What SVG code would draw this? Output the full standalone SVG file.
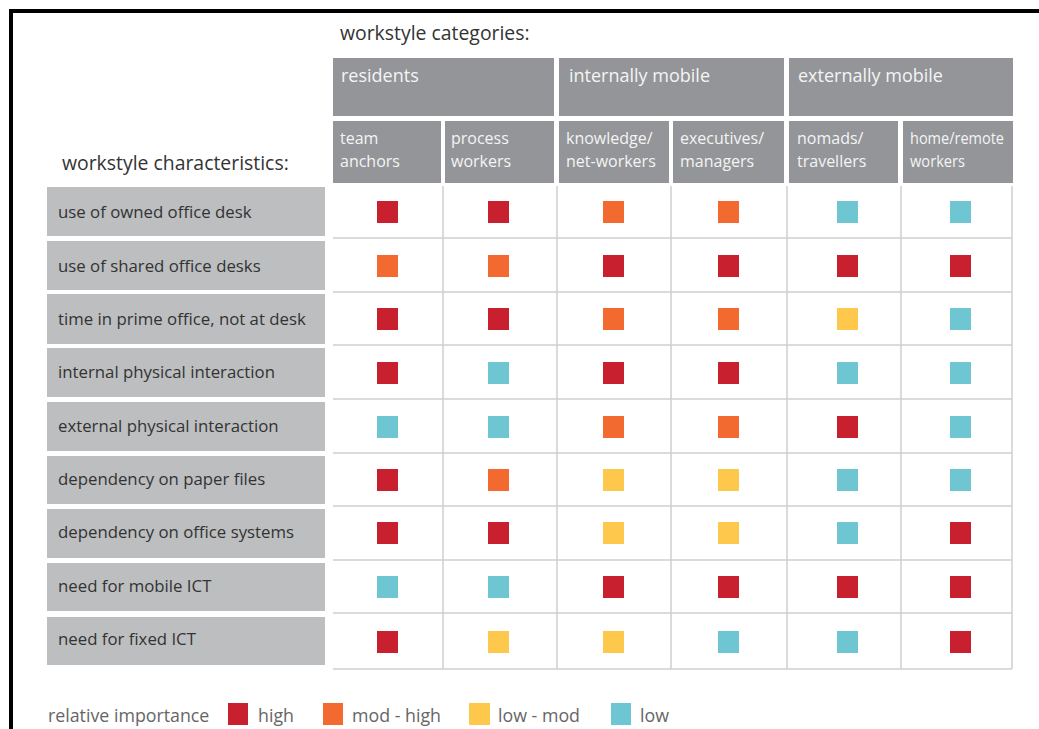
<svg xmlns="http://www.w3.org/2000/svg" width="1039" height="729" viewBox="0 0 1039 729">
<style>
.t{font-family:"Open Sans","Noto Sans","Liberation Sans",sans-serif;}
.title{font-size:19.4px;fill:#333;}
.hdr{fill:#939598;}
.ht{font-size:18px;fill:#f4f4f4;}
.st{font-size:16px;fill:#f4f4f4;}
.lbl{fill:#bcbec0;}
.lt{font-size:16.8px;fill:#333;}
.g{stroke:#cfcfcf;stroke-width:1.5;fill:none;}
.h{fill:#c8202e;}.m{fill:#f26a30;}.l{fill:#fec84c;}.w{fill:#6fc6d3;}
.leg{font-size:17.8px;fill:#666;}
</style>
<rect x="0" y="0" width="1039" height="729" fill="#fff"/>
<rect x="9" y="9" width="1030" height="4" fill="#000"/>
<rect x="9" y="9" width="4" height="720" fill="#000"/>
<text class="t title" x="340" y="40">workstyle categories:</text>
<text class="t title" x="62" y="170">workstyle characteristics:</text>
<g id="cat-residents"><rect class="hdr" x="333" y="58" width="221" height="58"/><text class="t ht" x="341" y="82">residents</text></g>
<g id="cat-internally"><rect class="hdr" x="559" y="58" width="225" height="58"/><text class="t ht" x="569" y="82">internally mobile</text></g>
<g id="cat-externally"><rect class="hdr" x="789" y="58" width="224" height="58"/><text class="t ht" x="798" y="82">externally mobile</text></g>
<g id="sub-team"><rect class="hdr" x="333" y="121" width="108" height="62"/><text class="t st" x="340" y="144">team</text><text class="t st" x="340" y="167">anchors</text></g>
<g id="sub-process"><rect class="hdr" x="445" y="121" width="109" height="62"/><text class="t st" x="451" y="144">process</text><text class="t st" x="451" y="167">workers</text></g>
<g id="sub-knowledge"><rect class="hdr" x="559" y="121" width="110" height="62"/><text class="t st" x="566" y="144">knowledge/</text><text class="t st" x="566" y="167">net-workers</text></g>
<g id="sub-exec"><rect class="hdr" x="673" y="121" width="111" height="62"/><text class="t st" x="680" y="144">executives/</text><text class="t st" x="680" y="167">managers</text></g>
<g id="sub-nomads"><rect class="hdr" x="789" y="121" width="109" height="62"/><text class="t st" x="797" y="144">nomads/</text><text class="t st" x="797" y="167">travellers</text></g>
<g id="sub-home"><rect class="hdr" x="903" y="121" width="110" height="62"/><text class="t st" x="910" y="144" textLength="94" lengthAdjust="spacingAndGlyphs">home/remote</text><text class="t st" x="910" y="167" textLength="55" lengthAdjust="spacingAndGlyphs">workers</text></g>
<g id="grid">
<path class="g" d="M443 186V669M557 186V669M671 186V669M787 186V669M901 186V669M1012 186V669"/>
<path class="g" d="M333 238H1012M333 292H1012M333 345H1012M333 399H1012M333 453H1012M333 506H1012M333 560H1012M333 613H1012M333 669H1012"/>
</g>
<g id="labels">
<g id="r1"><rect class="lbl" x="47" y="187" width="278" height="49"/><text class="t lt" x="58" y="218">use of owned office desk</text></g>
<g id="r2"><rect class="lbl" x="47" y="241" width="278" height="49"/><text class="t lt" x="58" y="272">use of shared office desks</text></g>
<g id="r3"><rect class="lbl" x="47" y="294" width="278" height="50"/><text class="t lt" x="58" y="325">time in prime office, not at desk</text></g>
<g id="r4"><rect class="lbl" x="47" y="348" width="278" height="49"/><text class="t lt" x="58" y="378">internal physical interaction</text></g>
<g id="r5"><rect class="lbl" x="47" y="402" width="278" height="49"/><text class="t lt" x="58" y="432">external physical interaction</text></g>
<g id="r6"><rect class="lbl" x="47" y="456" width="278" height="48"/><text class="t lt" x="58" y="485">dependency on paper files</text></g>
<g id="r7"><rect class="lbl" x="47" y="509" width="278" height="49"/><text class="t lt" x="58" y="538">dependency on office systems</text></g>
<g id="r8"><rect class="lbl" x="47" y="563" width="278" height="48"/><text class="t lt" x="58" y="592">need for mobile ICT</text></g>
<g id="r9"><rect class="lbl" x="47" y="617" width="278" height="48"/><text class="t lt" x="58" y="645">need for fixed ICT</text></g>
</g>
<g id="cells">
<rect class="h" x="377" y="201" width="21" height="22"/><rect class="h" x="488" y="201" width="21" height="22"/><rect class="m" x="603" y="201" width="21" height="22"/><rect class="m" x="718" y="201" width="21" height="22"/><rect class="w" x="837" y="201" width="21" height="22"/><rect class="w" x="950" y="201" width="21" height="22"/>
<rect class="m" x="377" y="255" width="21" height="22"/><rect class="m" x="488" y="255" width="21" height="22"/><rect class="h" x="603" y="255" width="21" height="22"/><rect class="h" x="718" y="255" width="21" height="22"/><rect class="h" x="837" y="255" width="21" height="22"/><rect class="h" x="950" y="255" width="21" height="22"/>
<rect class="h" x="377" y="308" width="21" height="22"/><rect class="h" x="488" y="308" width="21" height="22"/><rect class="m" x="603" y="308" width="21" height="22"/><rect class="m" x="718" y="308" width="21" height="22"/><rect class="l" x="837" y="308" width="21" height="22"/><rect class="w" x="950" y="308" width="21" height="22"/>
<rect class="h" x="377" y="362" width="21" height="22"/><rect class="w" x="488" y="362" width="21" height="22"/><rect class="h" x="603" y="362" width="21" height="22"/><rect class="h" x="718" y="362" width="21" height="22"/><rect class="w" x="837" y="362" width="21" height="22"/><rect class="w" x="950" y="362" width="21" height="22"/>
<rect class="w" x="377" y="416" width="21" height="22"/><rect class="w" x="488" y="416" width="21" height="22"/><rect class="m" x="603" y="416" width="21" height="22"/><rect class="m" x="718" y="416" width="21" height="22"/><rect class="h" x="837" y="416" width="21" height="22"/><rect class="w" x="950" y="416" width="21" height="22"/>
<rect class="h" x="377" y="469" width="21" height="22"/><rect class="m" x="488" y="469" width="21" height="22"/><rect class="l" x="603" y="469" width="21" height="22"/><rect class="l" x="718" y="469" width="21" height="22"/><rect class="w" x="837" y="469" width="21" height="22"/><rect class="w" x="950" y="469" width="21" height="22"/>
<rect class="h" x="377" y="522" width="21" height="22"/><rect class="h" x="488" y="522" width="21" height="22"/><rect class="l" x="603" y="522" width="21" height="22"/><rect class="l" x="718" y="522" width="21" height="22"/><rect class="w" x="837" y="522" width="21" height="22"/><rect class="h" x="950" y="522" width="21" height="22"/>
<rect class="w" x="377" y="576" width="21" height="22"/><rect class="w" x="488" y="576" width="21" height="22"/><rect class="h" x="603" y="576" width="21" height="22"/><rect class="h" x="718" y="576" width="21" height="22"/><rect class="h" x="837" y="576" width="21" height="22"/><rect class="h" x="950" y="576" width="21" height="22"/>
<rect class="h" x="377" y="631" width="21" height="22"/><rect class="l" x="488" y="631" width="21" height="22"/><rect class="l" x="603" y="631" width="21" height="22"/><rect class="w" x="718" y="631" width="21" height="22"/><rect class="w" x="837" y="631" width="21" height="22"/><rect class="h" x="950" y="631" width="21" height="22"/>
</g>
<g id="legend">
<text class="t leg" x="48" y="722">relative importance</text>
<rect class="h" x="228" y="703" width="20" height="22"/><text class="t leg" x="258" y="722">high</text>
<rect class="m" x="323" y="703" width="20" height="22"/><text class="t leg" x="352" y="722">mod - high</text>
<rect class="l" x="469" y="703" width="21" height="22"/><text class="t leg" x="498" y="722">low - mod</text>
<rect class="w" x="611" y="703" width="20" height="22"/><text class="t leg" x="640" y="722">low</text>
</g>
</svg>
